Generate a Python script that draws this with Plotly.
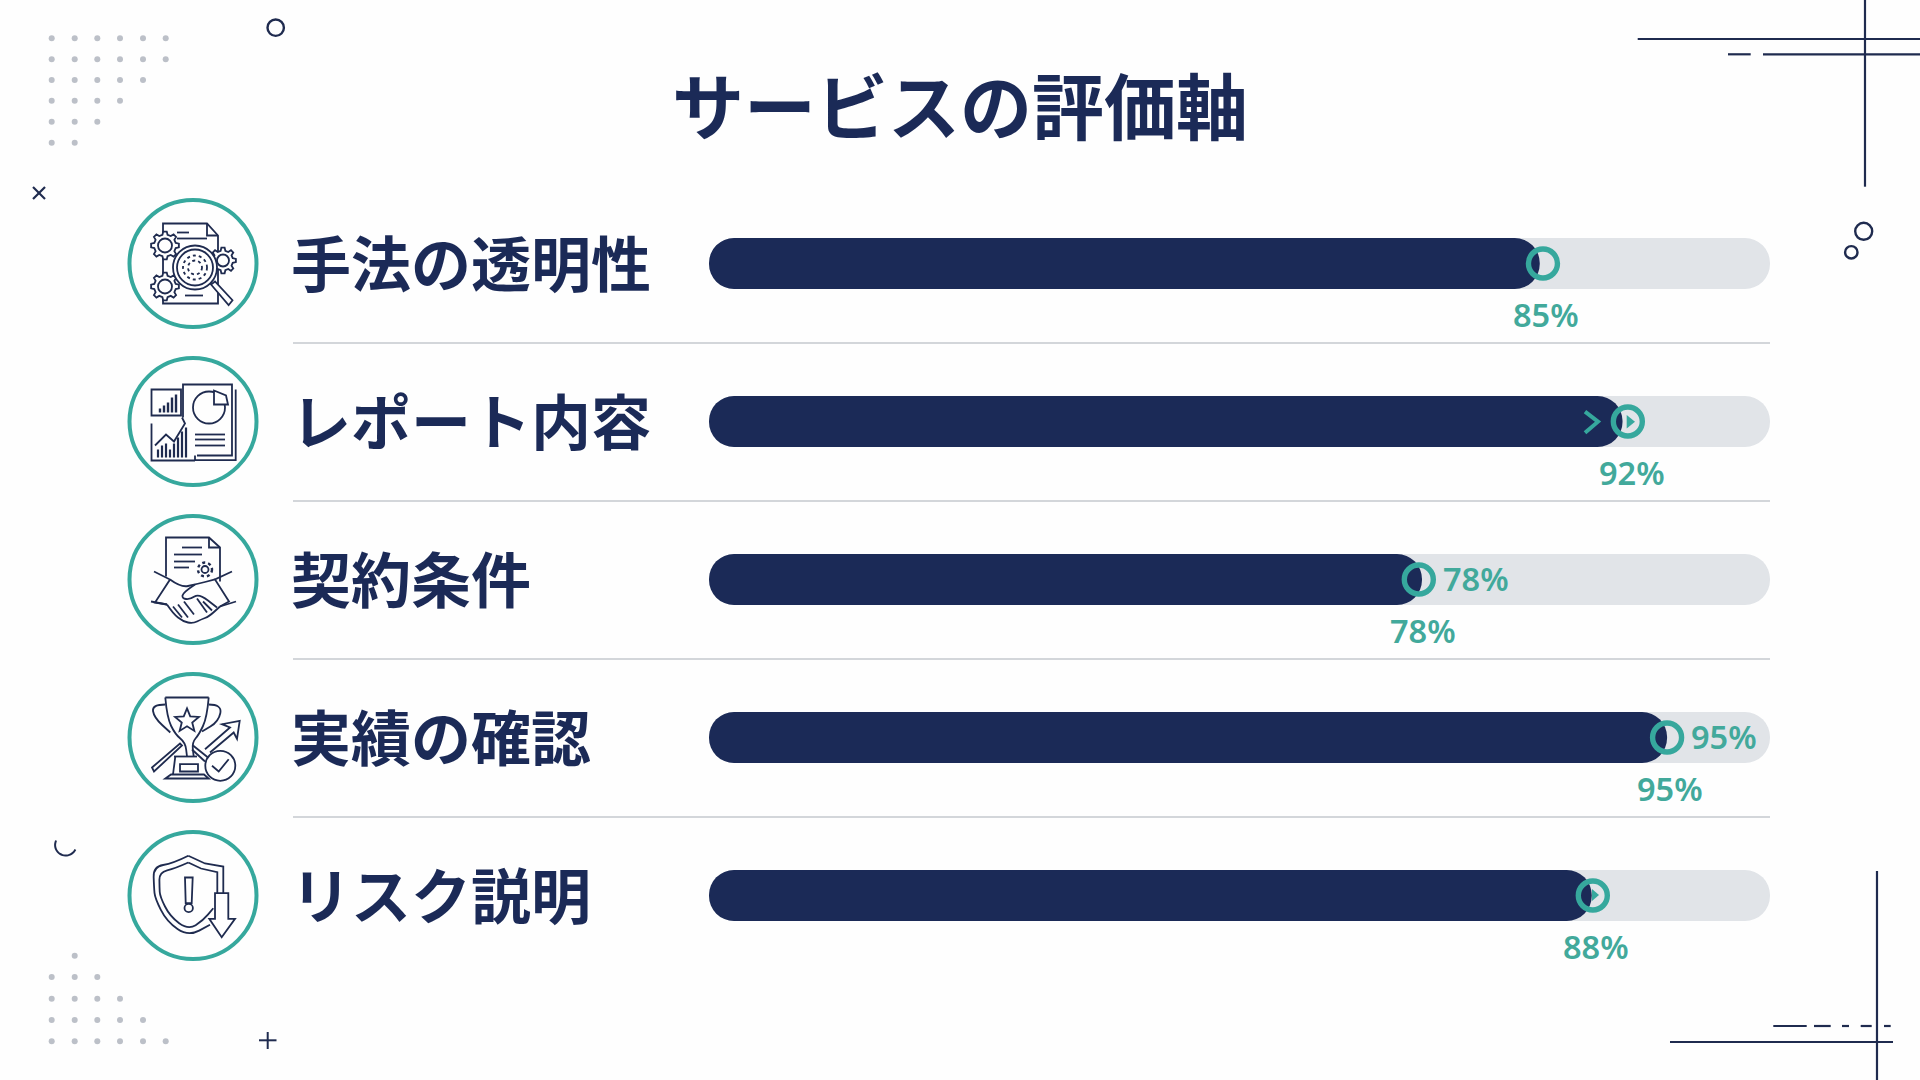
"""サービスの評価軸: pill-shaped progress bars with line-art icons."""
import math

import plotly.graph_objects as go

W, H = 1920, 1080

categories = ["手法の透明性", "レポート内容", "契約条件", "実績の確認", "リスク説明"]
# bar lengths as drawn, in % of the grey track (they don't follow the printed labels)
bar_lengths = [78.3, 86.1, 67.2, 90.3, 83.2]
track_lengths = [100, 100, 100, 100, 100]
ring_positions = [78.6, 86.6, 66.9, 90.3, 83.3]
value_labels = ["85%", "92%", "78%", "95%", "88%"]
label_positions = [78.9, 87.0, 67.3, 90.6, 83.6]
inline_categories = ["契約条件", "実績の確認"]
inline_labels = ["78%", "95%"]
inline_positions = [72.3, 95.7]

NAVY = "#1b2a57"
INK = "#1f2b4f"
TRACK = "#e1e4e8"
TEAL = "#36a89d"
TEXT_TEAL = "#42a99b"
RULE = "#d3d6da"
DOT = "#bcc0c8"
JP = "Noto Sans CJK JP"

TRACK_L, TRACK_R = 709, 1770
ROW_TOP, ROW_PITCH = 263.5, 158
PLOT_TOP, PLOT_BOT = ROW_TOP - ROW_PITCH / 2, ROW_TOP + 4.5 * ROW_PITCH


# ---- shape helpers, everything in page pixels ----------------------------

def _pt(x, y):
    return f"{x / W:.5f},{1 - y / H:.5f}"


def _style(color, width, fill=None, dash="solid"):
    return {"xref": "paper", "yref": "paper",
            "line": {"color": color, "width": width, "dash": dash},
            "fillcolor": fill or "rgba(0,0,0,0)"}


def seg(pts, color=INK, width=1.8, closed=False, fill=None):
    path = "M" + " L".join(_pt(x, y) for x, y in pts) + (" Z" if closed else "")
    return {"type": "path", "path": path, **_style(color, width, fill)}


def curve(pts, color=INK, width=1.8, closed=False, fill=None):
    # quadratic smoothing through the midpoints, ends stay on the first/last point
    path = "M" + _pt(*pts[0])
    for a, b in zip(pts[1:-1], pts[2:]):
        path += f" Q{_pt(*a)} {_pt((a[0] + b[0]) / 2, (a[1] + b[1]) / 2)}"
    path += " L" + _pt(*pts[-1]) + (" Z" if closed else "")
    return {"type": "path", "path": path, **_style(color, width, fill)}


def ring(cx, cy, r, color=INK, width=1.8, fill=None, dash="solid"):
    return {"type": "circle", "x0": (cx - r) / W, "x1": (cx + r) / W,
            "y0": 1 - (cy + r) / H, "y1": 1 - (cy - r) / H,
            **_style(color, width, fill, dash)}


def dot(cx, cy, r=3):
    return {**ring(cx, cy, r, DOT, 0, DOT), "line": {"width": 0}}


def at(cx, cy, pts):
    return [(cx + x, cy + y) for x, y in pts]


def gear(cx, cy, r_out, r_in, hole, teeth=8):
    pts = []
    for i in range(teeth):
        a = 2 * math.pi * i / teeth
        step = 2 * math.pi / teeth
        for off, r in [(-0.3, r_in), (-0.16, r_out), (0.16, r_out), (0.3, r_in)]:
            pts.append((cx + r * math.cos(a + off * step), cy + r * math.sin(a + off * step)))
    return [seg(pts, closed=True, fill="white"), ring(cx, cy, hole)]


def star(cx, cy, big, small):
    pts = []
    for i in range(10):
        r = big if i % 2 == 0 else small
        a = -math.pi / 2 + i * math.pi / 5
        pts.append((cx + r * math.cos(a), cy + r * math.sin(a)))
    return seg(pts, closed=True)


# ---- icons ----------------------------------------------------------------

def icon_method(cx, cy):
    s = [seg(at(cx, cy, [(-30, -40), (14, -40), (25, -28), (25, 40), (-30, 40)]), closed=True, fill="white"),
         seg(at(cx, cy, [(14, -40), (14, -28), (25, -28)]))]
    for a, b in [((-16, -31), (-4, -31)), ((-16, -25), (14, -25)), ((-8, 32), (10, 32))]:
        s.append(seg(at(cx, cy, [a, b])))
    s += gear(cx + 30, cy - 3, 13, 10, 6)
    s += gear(cx - 28, cy - 18, 14, 11, 7)
    s += gear(cx - 28, cy + 23, 14, 11, 7)
    s.append(ring(cx + 2, cy + 4, 22, fill="white"))
    s.append(ring(cx + 2, cy + 4, 18))
    s.append(ring(cx + 2, cy + 4, 12, dash="dot"))
    s.append(ring(cx + 2, cy + 4, 7, dash="dot"))
    s.append(seg(at(cx, cy, [(18, 21), (22, 18), (39.5, 36.7), (35.6, 41.7)]), closed=True, fill="white"))
    return s


def icon_report(cx, cy):
    s = [seg(at(cx, cy, [(-10, -4), (-10, -37), (39, -37), (39, 34), (4, 34)])),
         seg(at(cx, cy, [(42.7, -32), (42.7, 38.7), (2, 38.7), (2, 34)])),
         seg(at(cx, cy, [(-41.5, -32), (-12, -32), (-12, -6), (-41.5, -6)]), closed=True, fill="white")]
    for x, top in [(-33, -13), (-29, -16), (-25, -19), (-21, -24), (-17, -27)]:
        s.append(seg(at(cx, cy, [(x, -9), (x, top)]), width=2.4))
    s.append(ring(cx + 16, cy - 14, 16))
    s.append(seg(at(cx, cy, [(21, -31), (21, -17), (35, -17), (33, -26)]), closed=True, fill="white"))
    s.append(seg(at(cx, cy, [(-41.5, 2), (-41.5, 39), (2, 39)])))
    for x, top in [(-35, 28), (-31, 24), (-27, 22), (-23, 28), (-19, 22), (-15, 16), (-11, 10), (-7, 6)]:
        s.append(seg(at(cx, cy, [(x, 36), (x, top)]), width=2.2))
    s.append(seg(at(cx, cy, [(-38, 24), (-27, 13), (-19, 20), (-8, 2), (-11, -4)])))
    for y in (13, 18, 24):
        s.append(seg(at(cx, cy, [(2, y), (32, y)])))
    return s


def icon_contract(cx, cy):
    s = [seg(at(cx, cy, [(-27, -3), (-27, -42), (16, -42), (27, -32), (27, 2)])),
         seg(at(cx, cy, [(16, -42), (16, -32), (27, -32)]))]
    for a, b in [((-11, -32), (9, -32)), ((-19, -25), (9, -25)), ((-19, -18), (2, -18)), ((-19, -12), (-4, -12))]:
        s.append(seg(at(cx, cy, [a, b])))
    s.append(ring(cx + 12, cy - 10, 7, width=2.4, dash="dot"))
    s.append(ring(cx + 12, cy - 10, 3.5))
    s.append(seg(at(cx, cy, [(-39, -8), (-23, 0), (-38, 23), (-26, 25)])))
    s.append(seg(at(cx, cy, [(39, -8), (22, 0), (36, 22), (27, 27)])))
    s.append(seg(at(cx, cy, [(-42, 22), (-26, 25)])))
    s.append(seg(at(cx, cy, [(43, 22), (27, 27)])))
    s.append(curve(at(cx, cy, [(-23, 0), (-12, 8), (2, 5), (22, 0)])))
    s.append(curve(at(cx, cy, [(2, 5), (-10, 13), (-11, 19), (-3, 20), (6, 14), (24, 28)])))
    s.append(curve(at(cx, cy, [(-26, 25), (-20, 34), (-10, 42), (0, 44), (8, 40), (16, 37), (27, 27)])))
    for a, b in [((-20, 27), (-11, 38)), ((-15, 25), (-5, 38)), ((-9, 22), (1, 35)),
                 ((4, 19), (14, 33)), ((10, 22), (19, 31))]:
        s.append(seg(at(cx, cy, [a, b])))
    return s


def icon_trophy(cx, cy):
    s = [seg(at(cx, cy, [(-41, 30), (-13, 6), (-11, 8), (-39, 34)]), closed=True),
         seg(at(cx, cy, [(0, 8), (15, 20)])), seg(at(cx, cy, [(-1, 12), (12, 24)])),
         curve(at(cx, cy, [(-27.7, -40), (-26, -20), (-17.7, -3), (-7.7, 5), (-6, 19)])),
         curve(at(cx, cy, [(15.7, -40), (14, -20), (6, -3), (-1, 5), (0.7, 19)])),
         seg(at(cx, cy, [(-27.7, -40), (15.7, -40)])),
         curve(at(cx, cy, [(-27.7, -33), (-41, -33), (-39, -20), (-22.7, -5)])),
         curve(at(cx, cy, [(15.7, -33), (29, -33), (25.7, -16), (9, -6)])),
         star(cx - 6, cy - 16.7, 12.5, 5.5),
         seg(at(cx, cy, [(-19, 19), (4, 19)])),
         seg(at(cx, cy, [(-17.7, 19), (-20, 37)])),
         seg(at(cx, cy, [(-13, 26.7), (5, 26.7), (5, 34), (-13, 34)]), closed=True),
         seg(at(cx, cy, [(-27.7, 41), (15.7, 41), (11, 37), (-22, 37)]), closed=True),
         seg(at(cx, cy, [(12, 11.7), (37, -10), (29, -13.3), (46.7, -16.7), (44, 1.3), (40.7, -5), (17, 15)])),
         ring(cx + 27.3, cy + 28.3, 15, fill="white"),
         seg(at(cx, cy, [(19, 28.3), (25.7, 34), (35.7, 21.7)]))]
    return s


def icon_risk(cx, cy):
    return [
        curve(at(cx, cy, [(-4.7, -39.7), (-20, -32), (-39.7, -29), (-39, -8), (-38, 2.7), (-26.3, 26),
                          (-4.7, 41), (17, 29.3)])),
        seg(at(cx, cy, [(-4.7, -39.7), (12, -32), (30.3, -29), (30.3, -2.3)])),
        curve(at(cx, cy, [(-4.7, -33), (-18, -27), (-33.7, -23.3), (-33.5, -8), (-33, 1), (-23, 21),
                          (-4.7, 34.3), (10, 25), (20.3, 12.7)])),
        seg(at(cx, cy, [(-4.7, -33), (8, -27), (24.3, -23.3), (24.3, -2.3)])),
        seg(at(cx, cy, [(-8, -18), (-0.3, -18), (-1.3, 7.7), (-7.3, 7.7)]), closed=True),
        ring(cx - 4.3, cy + 12.5, 4.2),
        seg(at(cx, cy, [(22, -2.3), (35.3, -2.3), (35.3, 23.3), (42, 23.3), (28.7, 41.7), (16.3, 23.3), (22, 23.3)]),
            closed=True, fill="white"),
    ]


# ---- decoration ----------------------------------------------------------

def corner_art():
    s = []
    grid_x = [51.7, 74.7, 97.3, 120, 143, 165.7]
    for y, n in zip([38.3, 59.3, 80, 100.7, 121.7, 142.7], [6, 6, 5, 4, 3, 2]):
        s += [dot(x, y) for x in grid_x[:n]]
    s.append(dot(grid_x[1], 955.7))
    for y, n in zip([977, 998.7, 1020, 1041.3], [3, 4, 5, 6]):
        s += [dot(x, y) for x in grid_x[:n]]

    s.append(ring(275.7, 27.7, 8.2, width=2.4))
    s.append(seg([(33, 187), (45, 199)], width=2.2))
    s.append(seg([(45, 187), (33, 199)], width=2.2))
    arc = [(65.7 + 10.7 * math.cos(math.radians(a)), 845 + 10.7 * math.sin(math.radians(a)))
           for a in range(205, 10, -15)]
    s.append(curve(arc, width=2))
    s.append(seg([(259, 1040.3), (276.5, 1040.3)], width=2))
    s.append(seg([(267.7, 1032), (267.7, 1049)], width=2))

    # top right crosshair
    s.append(seg([(1637.7, 39), (1920, 39)], width=2.2))
    s.append(seg([(1728, 54.3), (1750.7, 54.3)], width=2.2))
    s.append(seg([(1763, 54.3), (1920, 54.3)], width=2.2))
    s.append(seg([(1865, 0), (1865, 186.7)], width=2.2))
    s.append(ring(1863.7, 231.3, 8.5, width=2.4))
    s.append(ring(1851.3, 252.3, 6.2, width=2.4))

    # bottom right crosshair
    s.append(seg([(1877, 871), (1877, 1080)], width=2.2))
    s.append(seg([(1670, 1042), (1893, 1042)], width=2.2))
    for a, b in [(1773.3, 1806.7), (1814, 1830.7), (1842, 1849), (1860.7, 1871.7), (1884, 1890.7)]:
        s.append(seg([(a, 1026), (b, 1026)], width=2.2))
    return s


# an explicit base makes plotly round both ends of the bar, which gives the pill
fig = go.Figure()
fig.add_trace(go.Bar(y=categories, x=track_lengths, base=[0] * len(categories), orientation="h",
                     width=51 / ROW_PITCH, marker={"color": TRACK, "line": {"width": 0}},
                     hoverinfo="skip"))
fig.add_trace(go.Bar(y=categories, x=bar_lengths, base=[0] * len(categories), orientation="h",
                     width=51 / ROW_PITCH, marker={"color": NAVY, "line": {"width": 0}},
                     hoverinfo="skip"))
fig.add_trace(go.Scatter(y=categories, x=ring_positions, mode="markers",
                         marker={"symbol": "circle-open", "size": 29, "color": TEAL,
                                 "line": {"width": 5.4, "color": TEAL}},
                         cliponaxis=False, hoverinfo="skip"))

shapes = corner_art()
for i in range(4):
    y = ROW_TOP + ROW_PITCH * i + 79.5
    shapes.append(seg([(293, y), (TRACK_R, y)], color=RULE, width=2))
icons = [icon_method, icon_report, icon_contract, icon_trophy, icon_risk]
for i, icon in enumerate(icons):
    cy = ROW_TOP + ROW_PITCH * i
    shapes.append(ring(193, cy, 63.5, color=TEAL, width=4))
    shapes += icon(193, cy)

# the small arrows in rows 2 and 5
shapes.append(seg([(1585, 411.7), (1598, 421.7), (1585, 432.7)], color=TEAL, width=4))
shapes.append(seg([(1626.7, 415), (1635, 421.7), (1626.7, 428.5)], color=NAVY, width=0, closed=True, fill=TEAL))
shapes.append(seg([(1592, 889), (1599, 895), (1592, 901)], color=NAVY, width=0, closed=True, fill=TEAL))

annotations = []
for name in categories:
    annotations.append({"text": name, "xref": "paper", "x": 288.5 / W, "yref": "y", "y": name,
                        "xanchor": "left", "yanchor": "middle", "yshift": 3, "showarrow": False,
                        "font": {"family": JP, "size": 60, "color": NAVY, "weight": "bold"}})
for name, text, x in zip(categories, value_labels, label_positions):
    annotations.append({"text": text, "xref": "x", "x": x, "yref": "y", "y": name, "yshift": -51,
                        "xanchor": "center", "yanchor": "middle", "showarrow": False,
                        "font": {"family": "Noto Sans", "size": 32.5, "color": TEXT_TEAL, "weight": 600}})
for name, text, x in zip(inline_categories, inline_labels, inline_positions):
    annotations.append({"text": text, "xref": "x", "x": x, "yref": "y", "y": name, "yshift": 1,
                        "xanchor": "center", "yanchor": "middle", "showarrow": False,
                        "font": {"family": "Noto Sans", "size": 32.5, "color": TEXT_TEAL, "weight": 600}})

fig.update_layout(
    width=W, height=H, margin={"l": 0, "r": 0, "t": 0, "b": 0},
    paper_bgcolor="#fefefe", plot_bgcolor="rgba(0,0,0,0)",
    showlegend=False, barmode="overlay", barcornerradius=25,
    title={"text": "サービスの評価軸", "x": 0.5, "xanchor": "center", "xref": "paper",
           "y": 1 - 109 / H, "yref": "paper", "yanchor": "middle",
           "font": {"family": JP, "size": 72, "color": NAVY, "weight": "bold"}},
    xaxis={"domain": [TRACK_L / W, TRACK_R / W], "range": [0, 100], "visible": False, "fixedrange": True},
    yaxis={"domain": [1 - PLOT_BOT / H, 1 - PLOT_TOP / H], "autorange": "reversed", "visible": False,
           "type": "category", "categoryorder": "array", "categoryarray": categories, "fixedrange": True},
    shapes=shapes, annotations=annotations,
)

fig.write_html("out.html", config={"displayModeBar": False},
               post_script="document.body.style.margin='0';")
